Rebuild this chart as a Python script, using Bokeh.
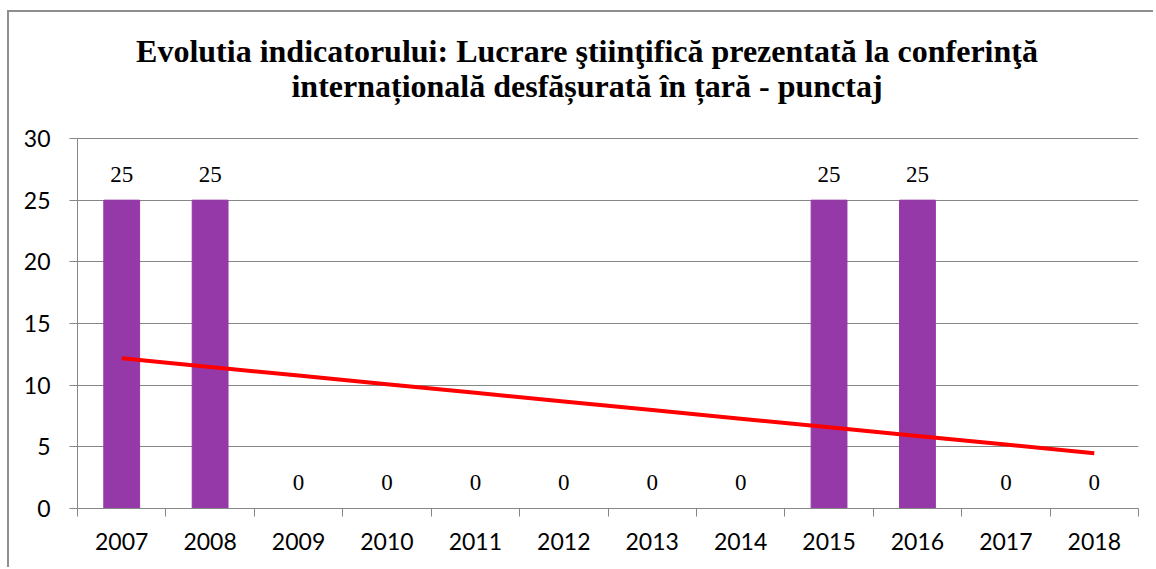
import numpy as np
from bokeh.plotting import figure
from bokeh.models import FixedTicker, Range1d, Label, ColumnDataSource, LabelSet
from bokeh.embed import file_html
from bokeh.resources import INLINE

years = ["2007", "2008", "2009", "2010", "2011", "2012", "2013", "2014", "2015", "2016", "2017", "2018"]
values = [25, 25, 0, 0, 0, 0, 0, 0, 25, 25, 0, 0]
title_lines = ["Evolutia indicatorului: Lucrare ştiinţifică prezentată la conferinţă",
               "internațională desfășurată în țară - punctaj"]

xs = list(range(1, len(years) + 1))
slope, intercept = np.polyfit(xs, values, 1)
trend = [slope * x + intercept for x in xs]

src = ColumnDataSource(dict(x=xs, y=values, lbl=[str(v) for v in values]))

# layout: the plot frame spans the full canvas height above the x axis; the value axis
# only covers 0..30 and the title sits in the free space above it.
W, H = 1146, 557
BORDER_BOTTOM = 61
AXIS_MAX = 30
AXIS_PX = 370                       # pixel height of 0..30
FRAME_PX = H - BORDER_BOTTOM        # pixel height of the frame
Y_TOP = AXIS_MAX * FRAME_PX / AXIS_PX

p = figure(width=W, height=H, output_backend="svg", toolbar_location=None,
           x_range=Range1d(0.5, len(years) + 0.5), y_range=Range1d(0, Y_TOP),
           min_border_left=68, min_border_right=17, min_border_top=0, min_border_bottom=BORDER_BOTTOM)
p.styles = {"border-top": "2px solid #8f8f8f", "border-left": "2px solid #8f8f8f",
            "margin-top": "10px", "margin-left": "7px"}
p.outline_line_color = None
p.title = None

TICK_FONT = "Lato"
FS = "23px"

p.vbar(x="x", top="y", width=0.405, color="#9538a8", source=src)
p.line(xs, trend, line_color="#ff0000", line_width=4)

labels = LabelSet(x="x", y="y", text="lbl", source=src, text_align="center", text_baseline="middle",
                  y_offset=26, text_font=TICK_FONT, text_font_size=FS, text_color="#000000")
p.add_layout(labels)

# x axis
p.xaxis.ticker = FixedTicker(ticks=xs, minor_ticks=[x - 0.5 for x in xs] + [len(xs) + 0.5])
p.xaxis.major_label_overrides = {x: y for x, y in zip(xs, years)}
p.xaxis.major_tick_out = 0
p.xaxis.major_tick_in = 0
p.xaxis.minor_tick_out = 8
p.xaxis.minor_tick_in = 0
p.xaxis.minor_tick_line_color = "#868686"
p.xaxis.axis_line_color = "#868686"
p.xaxis.major_label_standoff = 16
p.xaxis.major_label_text_font = TICK_FONT
p.xaxis.major_label_text_font_size = FS
p.xaxis.major_label_text_color = "#000000"
p.xgrid.grid_line_color = None

# y axis
p.yaxis.ticker = FixedTicker(ticks=[0, 5, 10, 15, 20, 25, 30])
p.yaxis.bounds = (0, AXIS_MAX)
p.yaxis.major_tick_out = 8
p.yaxis.major_tick_in = 0
p.yaxis.minor_tick_line_color = None
p.yaxis.major_tick_line_color = "#868686"
p.yaxis.axis_line_color = "#868686"
p.yaxis.major_label_standoff = 19
p.yaxis.major_label_text_font = TICK_FONT
p.yaxis.major_label_text_font_size = FS
p.yaxis.major_label_text_color = "#000000"
p.ygrid.grid_line_color = "#868686"
p.ygrid.grid_line_width = 1

# chart title: two centred lines above the value axis
px_per_unit = AXIS_PX / AXIS_MAX
title_center_x = 0.5 + 509.5 / (1061 / len(years))
title_raise_px = [88, 53]
for line, dy in zip(title_lines, title_raise_px):
    p.add_layout(Label(x=title_center_x, y=AXIS_MAX + dy / px_per_unit, text=line,
                       text_align="center", text_baseline="alphabetic", text_font="Liberation Serif",
                       text_font_size="32px", text_font_style="bold", text_color="#000000"))

open("out.html", "w").write(file_html(p, INLINE))
